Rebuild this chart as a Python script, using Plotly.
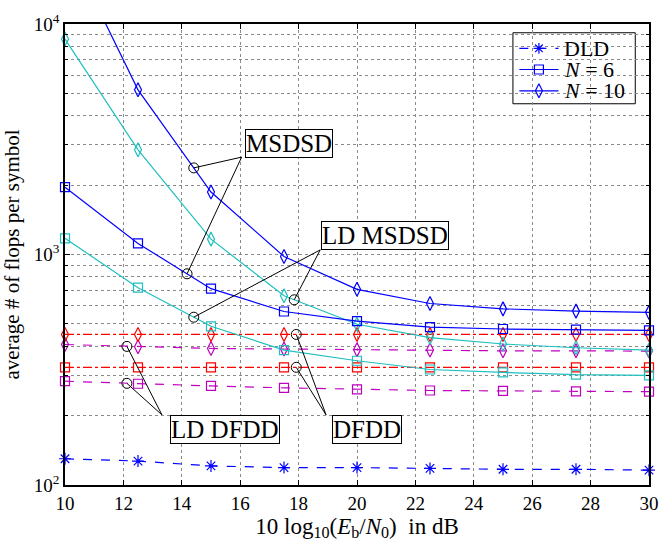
import numpy as np
import plotly.graph_objects as go

# SNR grid (dB)
snr = [10, 12.5, 15, 17.5, 20, 22.5, 25, 27.5, 30]

# average number of flops per symbol
dld = [130, 127, 121, 119, 119, 118, 117, 117, 116]
msdsd_n6 = [1960, 1117, 711, 566, 514, 484, 475, 472, 469]
msdsd_n10 = [23000, 5180, 1867, 980, 706, 613, 581, 568, 561]
ld_msdsd_n6 = [1175, 718, 488, 385, 346, 317, 308, 301, 299]
ld_msdsd_n10 = [8600, 2845, 1166, 662, 498, 436, 409, 394, 385]
dfdd_n6 = [324, 324, 324, 324, 324, 324, 324, 324, 324]
dfdd_n10 = [450, 450, 450, 450, 450, 450, 450, 450, 450]
ld_dfdd_n6 = [282, 275, 269, 264, 260, 257, 256, 255, 254]
ld_dfdd_n10 = [407, 398, 391, 389, 386, 385, 382, 382, 381]

# axis ticks
x_ticks = [10, 12, 14, 16, 18, 20, 22, 24, 26, 28, 30]
y_ticks = [100, 1000, 10000]
y_tick_text = ["10<sup>2</sup>", "10<sup>3</sup>", "10<sup>4</sup>"]
X_RANGE = [10, 30]
Y_RANGE_LOG = [2, 4]

BLUE = "#0000ff"
CYAN = "#1fbfbf"
RED = "#ff0000"
MAGENTA = "#bf00bf"
SERIF = "Liberation Serif"
GRID = "#8a8a8a"

fig = go.Figure()


def add_series(y, color, dash, symbol, clip=False):
    fig.add_trace(go.Scatter(
        x=snr, y=y, mode="lines+markers", showlegend=False,
        line=dict(color=color, width=1.2, dash=dash),
        marker=dict(symbol=symbol, size=9 if "square" in symbol else 10,
                    color=color, line=dict(color=color, width=1.2)),
        cliponaxis=clip,
    ))


# curves
add_series(ld_dfdd_n6, MAGENTA, "dash", "square-open")
add_series(ld_dfdd_n10, MAGENTA, "dash", "diamond-tall-open")
add_series(dfdd_n6, RED, "dashdot", "square-open")
add_series(dfdd_n10, RED, "dashdot", "diamond-tall-open")
add_series(ld_msdsd_n6, CYAN, "solid", "square-open")
add_series(ld_msdsd_n10, CYAN, "solid", "diamond-tall-open")
add_series(dld, BLUE, "dash", "asterisk-open")
add_series(msdsd_n6, BLUE, "solid", "square-open")
add_series(msdsd_n10, BLUE, "solid", "diamond-tall-open", clip=True)


def on_curve(series, x):
    """Point on a curve (log-interpolated) used as a callout anchor."""
    return x, 10 ** np.interp(x, snr, np.log10(series))


# callout boxes: (label, box centre x, box centre log10(y), corner x, corner log10(y), anchors)
callouts = [
    ("MSDSD", 17.68, 3.482, 16.05, 3.4225,
     [on_curve(msdsd_n10, 14.41), on_curve(msdsd_n6, 14.18)]),
    ("LD MSDSD", 20.96, 3.0815, 18.74, 3.020,
     [on_curve(ld_msdsd_n6, 14.41), on_curve(ld_msdsd_n10, 17.85)]),
    ("LD DFDD", 15.47, 2.240, 13.32, 2.3043,
     [on_curve(ld_dfdd_n10, 12.12), on_curve(ld_dfdd_n6, 12.12)]),
    ("DFDD", 20.34, 2.2424, 18.94, 2.3043,
     [on_curve(dfdd_n10, 17.92), on_curve(dfdd_n6, 17.92)]),
]

for label, bx, by, cx, cy, anchors in callouts:
    for ax_, ay_ in anchors:
        fig.add_trace(go.Scatter(
            x=[ax_, cx], y=[ay_, 10 ** cy], mode="lines", showlegend=False,
            line=dict(color="black", width=1), cliponaxis=False,
        ))
    fig.add_trace(go.Scatter(
        x=[a[0] for a in anchors], y=[a[1] for a in anchors], mode="markers",
        showlegend=False, cliponaxis=False,
        marker=dict(symbol="circle-open", size=10, color="black",
                    line=dict(color="black", width=1)),
    ))
    fig.add_annotation(
        x=bx, y=by, xref="x", yref="y", text=label, showarrow=False,
        font=dict(family=SERIF, size=25, color="black"),
        bgcolor="white", bordercolor="black", borderwidth=1, borderpad=0,
    )

# legend box (drawn by hand for a compact layout), in paper units
legend_entries = [
    ("DLD", BLUE, "dash", "asterisk-open", 9),
    ("<i>N</i> = 6", BLUE, "solid", "square-open", 9),
    ("<i>N</i> = 10", BLUE, "solid", "diamond-tall-open", 10),
]
LEG_X0, LEG_X1, LEG_Y0, LEG_Y1 = 0.767, 0.9765, 0.827, 0.981
row_y = [0.9473, 0.9013, 0.855]
line_x0, line_x1, text_x = 0.778, 0.845, 0.851

# white box between the grid and the traces
fig.add_shape(type="rect", xref="paper", yref="paper",
              x0=LEG_X0, x1=LEG_X1, y0=LEG_Y0, y1=LEG_Y1,
              line=dict(color="black", width=1), fillcolor="white", layer="between")


def paper_to_data(px, py):
    return (X_RANGE[0] + px * (X_RANGE[1] - X_RANGE[0]),
            10 ** (Y_RANGE_LOG[0] + py * (Y_RANGE_LOG[1] - Y_RANGE_LOG[0])))


for (label, color, dash, symbol, size), ry in zip(legend_entries, row_y):
    lx0, ly = paper_to_data(line_x0, ry)
    lx1, _ = paper_to_data(line_x1, ry)
    mx, _ = paper_to_data((line_x0 + line_x1) / 2, ry)
    fig.add_trace(go.Scatter(
        x=[lx0, lx1], y=[ly, ly], mode="lines", showlegend=False,
        line=dict(color=color, width=1.2, dash=dash), cliponaxis=False,
    ))
    fig.add_trace(go.Scatter(
        x=[mx], y=[ly], mode="markers", showlegend=False, cliponaxis=False,
        marker=dict(symbol=symbol, size=size, color=color,
                    line=dict(color=color, width=1.2)),
    ))
    fig.add_annotation(
        x=text_x, y=ry, xref="paper", yref="paper", xanchor="left", yanchor="middle",
        text=label, showarrow=False,
        font=dict(family=SERIF, size=22, color="black"),
    )

minor_vals = [v * 10 ** e for e in (2, 3) for v in range(2, 10)]

fig.update_xaxes(
    range=X_RANGE, tickvals=x_ticks,
    showline=True, linecolor="black", linewidth=1.5, mirror="ticks",
    ticks="inside", ticklen=5, tickcolor="black",
    showgrid=True, gridcolor=GRID, griddash="dot", gridwidth=1,
    zeroline=False,
    tickfont=dict(family=SERIF, size=19, color="black"),
    title=dict(text="10 log<sub>10</sub>(<i>E</i><sub>b</sub>/<i>N</i><sub>0</sub>)  in dB",
               font=dict(family=SERIF, size=23, color="black"), standoff=3),
)
fig.update_yaxes(
    type="log", range=Y_RANGE_LOG, tickmode="array",
    tickvals=y_ticks, ticktext=y_tick_text,
    showline=True, linecolor="black", linewidth=1.5, mirror="ticks",
    ticks="inside", ticklen=5, tickcolor="black",
    showgrid=True, gridcolor=GRID, griddash="dot", gridwidth=1,
    minor=dict(tickmode="array", tickvals=minor_vals, ticks="inside", ticklen=3,
               tickcolor="black", showgrid=True, gridcolor=GRID,
               griddash="dot", gridwidth=1),
    tickfont=dict(family=SERIF, size=19, color="black"),
    title=dict(text="average # of flops per symbol",
               font=dict(family=SERIF, size=21, color="black"), standoff=8),
)

fig.update_layout(
    width=670, height=544,
    margin=dict(l=63, r=11, t=22, b=53),
    paper_bgcolor="white", plot_bgcolor="white",
    showlegend=False,
)

fig.write_html("out.html")
